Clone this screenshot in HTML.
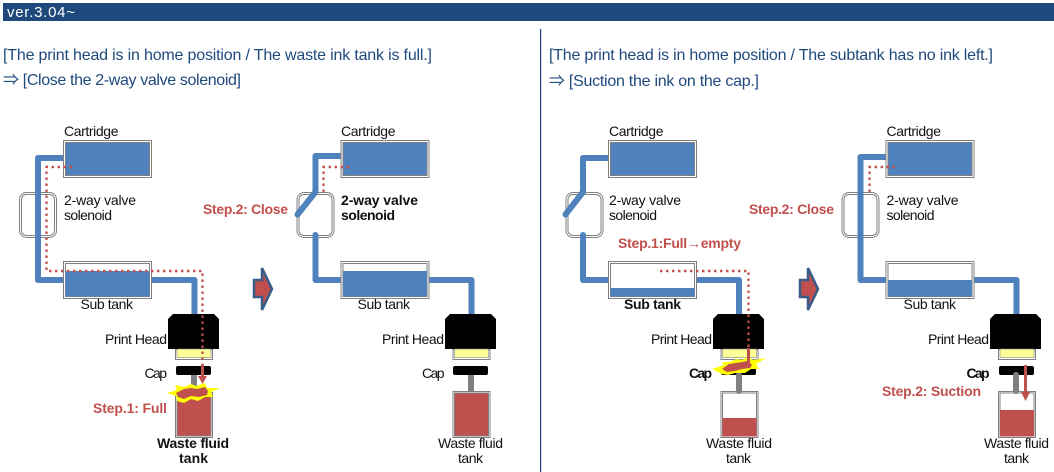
<!DOCTYPE html>
<html><head><meta charset="utf-8">
<style>
html,body{margin:0;padding:0;background:#fff;width:1054px;height:472px;overflow:hidden}
svg{display:block}
text{font-family:"Liberation Sans","Noto Sans CJK JP",sans-serif;font-size:14px;fill:#111}
.b{font-weight:bold}
.r{fill:#c0504d;font-weight:bold}
.t{fill:#1f497d;font-size:16px}
.o{fill:#fff;stroke:#808080;stroke-width:1}
.i{stroke:#808080;stroke-width:1}
.pipe{fill:none;stroke:#4f81bd;stroke-width:6;stroke-linejoin:round;stroke-linecap:round}
.butt{stroke-linecap:butt}
.dot{fill:none;stroke:#c0504d;stroke-width:2.4;stroke-dasharray:2.4 3.6}
.stem{stroke:#808080;stroke-width:6;fill:none}
</style></head><body>
<svg width="1054" height="472" viewBox="0 0 1054 472" xmlns="http://www.w3.org/2000/svg">
<rect x="3" y="3" width="1051" height="18" fill="#1f497d"/>
<text x="7" y="17" style="fill:#fff;font-size:15px" textLength="68">ver.3.04~</text>
<rect x="540" y="29" width="1.2" height="443" fill="#1f497d"/>

<text class="t" x="3" y="60" textLength="429">[The print head is in home position / The waste ink tank is full.]</text>
<text class="t" x="3" y="85" textLength="238">⇒ [Close the 2-way valve solenoid]</text>
<text class="t" x="549" y="60" textLength="444">[The print head is in home position / The subtank has no ink left.]</text>
<text class="t" x="549" y="86" textLength="210">⇒ [Suction the ink on the cap.]</text>

<!-- Panel 1 -->
<g>
<rect x="19.5" y="192.5" width="37" height="45" rx="7" class="o"/><rect x="21.5" y="194.5" width="33" height="41" rx="5" class="o"/>
<path class="pipe butt" d="M65 158H38V280H65M150 280H194.5V315"/>
<rect x="63.5" y="140.5" width="88" height="37" class="o"/><rect x="65.5" y="142.5" width="84" height="33" fill="#4f81bd" class="i"/>
<rect x="63.5" y="261.5" width="88" height="37" class="o"/><rect x="65.5" y="263.5" width="84" height="33" fill="#fff" class="i"/>
<rect x="65.5" y="271" width="84" height="25.5" fill="#4f81bd"/>
<polygon points="168,349 168,319 173,314 214,314 219,319 219,349" fill="#000"/>
<rect x="175.5" y="349.5" width="37" height="10" fill="#fff" stroke="#808080"/><rect x="177" y="349" width="34" height="8.5" fill="#ffff99" stroke="#808080" stroke-width=".6"/>
<rect x="176" y="366" width="35" height="9" rx="2" fill="#000"/>
<line class="stem" x1="194" y1="375" x2="194" y2="392"/>
<rect x="175.5" y="392.5" width="37" height="45" class="o"/><rect x="177" y="394" width="34" height="42" fill="#c0504d" class="i"/>
<path class="dot" d="M72 167H46.5V271H202.5V366"/>
<path d="M202.5 365V376" stroke="#c0504d" stroke-width="3" fill="none"/><polygon points="198,376 207,376 202.5,384" fill="#c0504d"/>
<polygon points="167,393 177,390 175,385 184,387 191,384 196,386 205,383 207,388 220,388 211,392 213,397 205,397 198,401 191,399 184,403 177,401 176,396" fill="#ffff00"/>
<polygon points="176,393 184,389 191,388 197,389 205,387 208,391 207,395 199,397 191,396 184,399 178,397" fill="#c0504d"/>
<text x="64" y="136" textLength="54.5">Cartridge</text>
<text x="64" y="205" textLength="72">2-way valve</text>
<text x="64" y="220" textLength="48">solenoid</text>
<text x="80.5" y="309" textLength="52.5">Sub tank</text>
<text x="105" y="344" textLength="62">Print Head</text>
<text x="144.5" y="378" textLength="22.5">Cap</text>
<text class="r" x="93" y="413" textLength="74">Step.1: Full</text>
<text class="b" x="157" y="448" textLength="72">Waste fluid</text>
<text class="b" x="179" y="463" textLength="29">tank</text>
</g>

<!-- Arrow 1 -->
<polygon points="254,280 262,280 262,268 272,289 262,310 262,297 254,297" fill="#c0504d" stroke="#385d8a" stroke-width="2.5"/>

<!-- Panel 2 -->
<g>
<rect x="297" y="192.5" width="37" height="45" rx="7" class="o"/><rect x="299" y="194.5" width="33" height="41" rx="5" class="o"/>
<path class="pipe" d="M342 156H315.5V192L297.5 214.5"/>
<path class="pipe" d="M315.5 235V280H342M427 280H471.5V315"/>
<rect x="341" y="140.5" width="88" height="37" class="o"/><rect x="343" y="142.5" width="84" height="33" fill="#4f81bd" class="i"/>
<rect x="341" y="261.5" width="88" height="37" class="o"/><rect x="343" y="263.5" width="84" height="33" fill="#fff" class="i"/>
<rect x="343" y="271" width="84" height="25.5" fill="#4f81bd"/>
<polygon points="445,349 445,319 450,314 491,314 496,319 496,349" fill="#000"/>
<rect x="453" y="349.5" width="37" height="10" fill="#fff" stroke="#808080"/><rect x="454.5" y="349" width="34" height="8.5" fill="#ffff99" stroke="#808080" stroke-width=".6"/>
<rect x="453" y="366" width="35" height="9" rx="2" fill="#000"/>
<line class="stem" x1="471" y1="375" x2="471" y2="392"/>
<rect x="453" y="391.5" width="37" height="46" class="o"/><rect x="454.5" y="393" width="34" height="43" fill="#c0504d" class="i"/>
<path class="dot" d="M349 167H323.5V192"/>
<text x="341" y="136" textLength="54.5">Cartridge</text>
<text class="b" x="341" y="205" textLength="77">2-way valve</text>
<text class="b" x="341" y="220" textLength="54">solenoid</text>
<text x="357.5" y="309" textLength="52.5">Sub tank</text>
<text x="382" y="344" textLength="62">Print Head</text>
<text x="422" y="378" textLength="22.5">Cap</text>
<text class="r" x="203" y="214" textLength="85">Step.2: Close</text>
<text x="438" y="448" textLength="65">Waste fluid</text>
<text x="458" y="463" textLength="25">tank</text>
</g>

<!-- Panel 3 -->
<g>
<rect x="566" y="192.5" width="37" height="45" rx="7" class="o"/><rect x="568" y="194.5" width="33" height="41" rx="5" class="o"/>
<path class="pipe" d="M610 158H583V192L565.5 214.5"/>
<path class="pipe" d="M583 235V280H610M695 280H739V315"/>
<rect x="608.5" y="140.5" width="88" height="37" class="o"/><rect x="610.5" y="142.5" width="84" height="33" fill="#4f81bd" class="i"/>
<rect x="608.5" y="261.5" width="88" height="37" class="o"/><rect x="610.5" y="263.5" width="84" height="33" fill="#fff" class="i"/>
<rect x="610.5" y="288" width="84" height="8.5" fill="#4f81bd"/>
<polygon points="713,349 713,319 718,314 759,314 764,319 764,349" fill="#000"/>
<rect x="721" y="349.5" width="37" height="10" fill="#fff" stroke="#808080"/><rect x="722.5" y="349" width="34" height="8.5" fill="#ffff99" stroke="#808080" stroke-width=".6"/>
<rect x="721" y="366" width="35" height="9" rx="2" fill="#000"/>
<path class="stem" d="M739 375V391" stroke-linecap="round"/>
<rect x="721" y="391.5" width="37" height="46" fill="none" stroke="#808080"/><rect x="722.5" y="393" width="34" height="43" fill="none" class="i"/>
<rect x="722.5" y="418" width="34" height="18.5" fill="#c0504d"/>
<path class="dot" d="M660 271H748.5V349"/>
<polygon points="712,369 724,365 722,362 730,362 736,359 742,360 748,357 753,360 766,358 756,364 759,369 751,369 745,373 735,373 728,375 722,374" fill="#ffff00"/>
<polygon points="722,369 729,364 736,363 742,362 748,361 752,365 750,368 742,369 735,371 727,372" fill="#c0504d"/>
<path d="M748.5 348V363" stroke="#c0504d" stroke-width="3" fill="none"/>
<text x="609" y="136" textLength="54.5">Cartridge</text>
<text x="609" y="205" textLength="72">2-way valve</text>
<text x="609" y="220" textLength="48">solenoid</text>
<text class="r" x="618" y="248" textLength="123">Step.1:Full→empty</text>
<text class="b" x="624" y="309" textLength="57">Sub tank</text>
<text x="651" y="344" textLength="61">Print Head</text>
<text class="b" x="689" y="378" textLength="23">Cap</text>
<text x="706" y="448" textLength="66">Waste fluid</text>
<text x="726" y="463" textLength="25">tank</text>
</g>

<!-- Arrow 2 -->
<polygon points="800,280 808,280 808,268 818,289 808,310 808,297 800,297" fill="#c0504d" stroke="#385d8a" stroke-width="2.5"/>

<!-- Panel 4 -->
<g>
<rect x="842" y="192.5" width="37" height="45" rx="7" class="o"/><rect x="844" y="194.5" width="33" height="41" rx="5" class="o"/>
<path class="pipe" d="M887 157H860.5V280H887M972 280H1016.5V315"/>
<rect x="886" y="140.5" width="88" height="37" class="o"/><rect x="888" y="142.5" width="84" height="33" fill="#4f81bd" class="i"/>
<rect x="886" y="261.5" width="88" height="37" class="o"/><rect x="888" y="263.5" width="84" height="33" fill="#fff" class="i"/>
<rect x="888" y="280" width="84" height="16.5" fill="#4f81bd"/>
<polygon points="990,349 990,319 995,314 1036,314 1041,319 1041,349" fill="#000"/>
<rect x="998.5" y="349.5" width="37" height="10" fill="#fff" stroke="#808080"/><rect x="1000" y="349" width="34" height="8.5" fill="#ffff99" stroke="#808080" stroke-width=".6"/>
<rect x="999" y="366" width="35" height="9" rx="2" fill="#000"/>
<path class="stem" d="M1016 375V391" stroke-linecap="round"/>
<rect x="998.5" y="391.5" width="37" height="46" fill="none" stroke="#808080"/><rect x="1000" y="393" width="34" height="43" fill="none" class="i"/>
<rect x="1000" y="410" width="34" height="26.5" fill="#c0504d"/>
<path class="dot" d="M895 167H869.5V192"/>
<path d="M1025.5 365V393" stroke="#c0504d" stroke-width="3" fill="none"/><polygon points="1021,392 1030,392 1025.5,401" fill="#c0504d"/>
<text x="886.5" y="136" textLength="54.5">Cartridge</text>
<text x="886.5" y="205" textLength="72">2-way valve</text>
<text x="886.5" y="220" textLength="48">solenoid</text>
<text x="903.5" y="309" textLength="52.5">Sub tank</text>
<text x="928" y="344" textLength="61">Print Head</text>
<text class="b" x="966.5" y="378" textLength="23">Cap</text>
<text class="r" x="749" y="214" textLength="85">Step.2: Close</text>
<text class="r" x="882" y="396" textLength="99">Step.2: Suction</text>
<text x="984" y="448" textLength="65">Waste fluid</text>
<text x="1004" y="463" textLength="25">tank</text>
</g>
</svg>
</body></html>
